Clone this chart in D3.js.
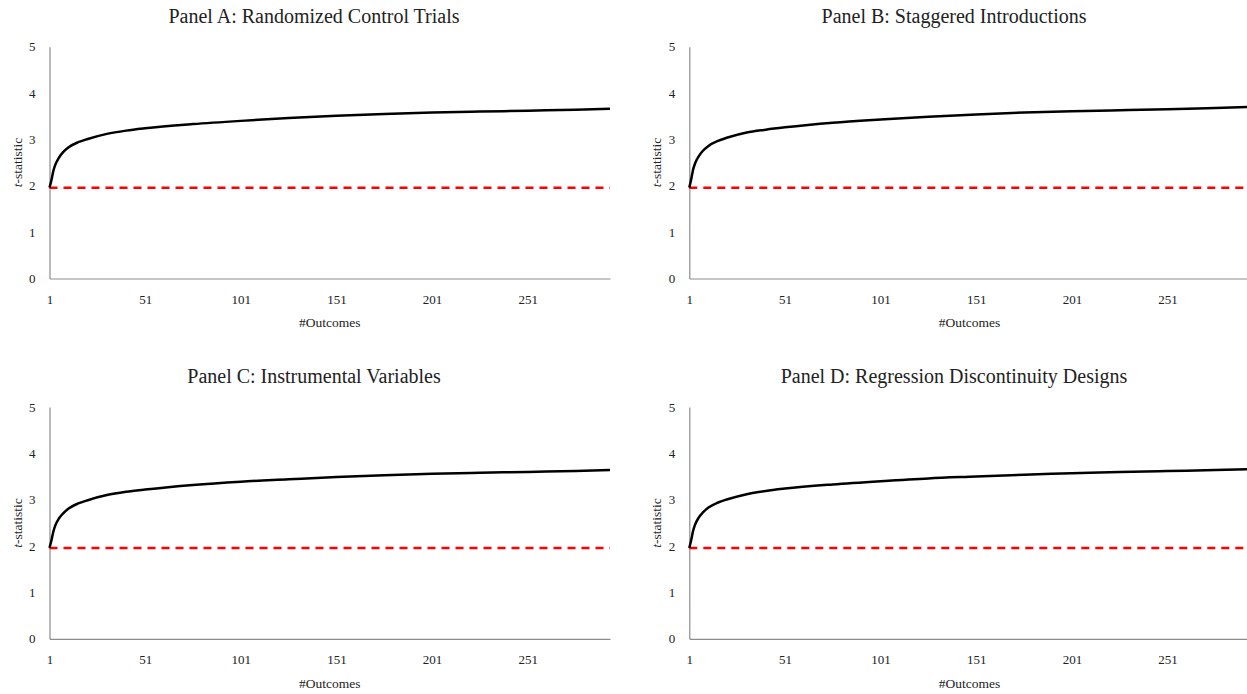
<!DOCTYPE html>
<html>
<head>
<meta charset="utf-8">
<script src="https://cdn.jsdelivr.net/npm/d3@7"></script>
<style>
  body { margin: 0; background: #fff; }
  svg text { font-family: "Liberation Serif", "DejaVu Serif", serif; fill: #222; }
</style>
</head>
<body>
<div id="chart"></div>
<script>
// data
var outcomes = [1, 2, 3, 4, 6, 8, 11, 16, 21, 31, 41, 51, 76, 101, 126, 151, 176, 201, 226, 251, 276, 294];
var panelA = [1.96, 2.12, 2.32, 2.45, 2.61, 2.72, 2.83, 2.94, 3.01, 3.12, 3.19, 3.24, 3.33, 3.40, 3.46, 3.51, 3.55, 3.58, 3.60, 3.62, 3.64, 3.66];
var panelB = [1.96, 2.14, 2.35, 2.48, 2.64, 2.75, 2.86, 2.97, 3.04, 3.15, 3.21, 3.26, 3.36, 3.43, 3.49, 3.54, 3.58, 3.61, 3.63, 3.65, 3.68, 3.70];
var panelC = [1.96, 2.12, 2.31, 2.44, 2.60, 2.70, 2.81, 2.92, 2.99, 3.10, 3.17, 3.22, 3.32, 3.39, 3.44, 3.49, 3.53, 3.56, 3.58, 3.60, 3.62, 3.64];
var panelD = [1.96, 2.13, 2.33, 2.46, 2.62, 2.72, 2.83, 2.94, 3.01, 3.12, 3.19, 3.24, 3.33, 3.40, 3.46, 3.50, 3.54, 3.57, 3.60, 3.62, 3.64, 3.66];
var threshold = 1.96;
var titles = ["Panel A: Randomized Control Trials", "Panel B: Staggered Introductions",
              "Panel C: Instrumental Variables", "Panel D: Regression Discontinuity Designs"];
var xTicks = [1, 51, 101, 151, 201, 251];
var yTicks = [0, 1, 2, 3, 4, 5];

//setup
var width = 1247,
    height = 694,
    plotW = 560.5,
    plotH = 231.8;

var panels = [
  { title: titles[0], values: panelA, left: 49.5, top: 46.7, mid: 314 },
  { title: titles[1], values: panelB, left: 689.3, top: 46.7, mid: 954 },
  { title: titles[2], values: panelC, left: 49.5, top: 407, mid: 314 },
  { title: titles[3], values: panelD, left: 689.3, top: 407, mid: 954 }
];

var xScale = d3.scaleLinear()
    .domain([1, 294])
    .range([0, plotW]);

var yScale = d3.scaleLinear()
    .domain([0, 5])
    .range([plotH, 0]);

var svg = d3.select("#chart").append("svg")
    .attr("width", width)
    .attr("height", height);

var line = d3.line()
    .x(function (d) { return xScale(d[0]); })
    .y(function (d) { return yScale(d[1]); })
    .curve(d3.curveMonotoneX);

panels.forEach(function (p) {
  var g = svg.append("g")
      .attr("transform", "translate(" + p.left + "," + p.top + ")");

  // title
  g.append("text")
      .attr("x", p.mid - p.left)
      .attr("y", -24)
      .attr("text-anchor", "middle")
      .style("font-size", "20px")
      .text(p.title);

  // y axis
  var yAxis = g.append("g")
      .call(d3.axisLeft(yScale).tickValues(yTicks).tickFormat(d3.format("d"))
          .tickSize(0).tickPadding(14));
  yAxis.select(".domain").attr("stroke", "#8c8c8c").attr("stroke-width", 1.2);
  yAxis.selectAll("text").style("font-size", "13px")
      .style("font-family", "'Liberation Serif', serif").attr("fill", "#222");

  // x axis
  var xAxis = g.append("g")
      .attr("transform", "translate(0," + plotH + ")")
      .call(d3.axisBottom(xScale).tickValues(xTicks).tickSize(0).tickPadding(16));
  xAxis.select(".domain").attr("stroke", "#8c8c8c").attr("stroke-width", 1.2);
  xAxis.selectAll("text").style("font-size", "13px")
      .style("font-family", "'Liberation Serif', serif").attr("fill", "#222");

  // axis labels
  g.append("text")
      .attr("x", plotW / 2)
      .attr("y", plotH + 49)
      .attr("text-anchor", "middle")
      .style("font-size", "13.5px")
      .text("#Outcomes");

  var yl = g.append("text")
      .attr("transform", "translate(" + (-28) + "," + (plotH / 2) + ") rotate(-90)")
      .attr("text-anchor", "middle")
      .style("font-size", "13.5px");
  yl.append("tspan").style("font-style", "italic").text("t");
  yl.append("tspan").text("-statistic");

  // threshold line
  g.append("path")
      .datum(outcomes.map(function (x) { return [x, threshold]; }))
      .attr("d", d3.line()
          .x(function (d) { return xScale(d[0]); })
          .y(function (d) { return yScale(d[1]); }))
      .attr("fill", "none")
      .attr("stroke", "#ff0000")
      .attr("stroke-width", 2.5)
      .attr("stroke-dasharray", "8,6");

  // curve
  g.append("path")
      .datum(outcomes.map(function (x, i) { return [x, p.values[i]]; }))
      .attr("d", line)
      .attr("fill", "none")
      .attr("stroke", "#000")
      .attr("stroke-width", 2.5);
});
</script>
</body>
</html>
